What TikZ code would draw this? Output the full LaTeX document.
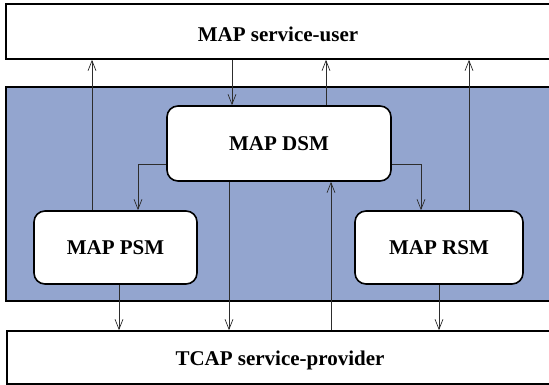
\documentclass[tikz,border=0pt]{standalone}
\usepackage{fontspec}
\newfontfamily\diagfont{Liberation Serif}
\usetikzlibrary{arrows.meta}
\definecolor{panelblue}{RGB}{147,165,207}
\definecolor{wire}{RGB}{45,45,45}
\tikzset{
  layerbox/.style={draw=black, line width=1.6pt, fill=white, rectangle, inner sep=0pt},
  smbox/.style={draw=black, line width=1.6pt, fill=white, rounded corners=11pt, inner sep=0pt,
                font=\diagfont\fontsize{21}{24}\selectfont\bfseries},
  lbl/.style={font=\diagfont\fontsize{21}{24}\selectfont\bfseries, inner sep=0pt},
  sig/.style={draw=wire, line width=0.9pt, -{Straight Barb[length=10pt,width=8pt,line width=0.7pt]}},
}
\begin{document}
\begin{tikzpicture}[x=1pt,y=-1pt]
\useasboundingbox (0,0) rectangle (549,385);
\clip (0,0) rectangle (549,385);
\fill[white] (0,0) rectangle (549,385);
% layers
\node[layerbox, minimum width=569pt, minimum height=55pt] (top) at (290.5,31.5) {};
\node[lbl] (toplbl) at (278,34.5) {MAP service-user};
\node[draw=black, line width=1.6pt, fill=panelblue, minimum width=569pt, minimum height=214pt, inner sep=0pt] (panel) at (290.5,194) {};
\node[layerbox, minimum width=568pt, minimum height=53pt] (tcap) at (291,357.5) {};
\node[lbl] (tcaplbl) at (280,360) {TCAP service-provider};
% state machines
\node[smbox, minimum width=224pt, minimum height=75pt] (dsm) at (279,143.5) {MAP DSM};
\node[smbox, minimum width=163pt, minimum height=73pt] (psm) at (115.5,247.5) {MAP PSM};
\node[smbox, minimum width=168pt, minimum height=73pt] (rsm) at (439,247.5) {MAP RSM};
% x positions of the connectors
\coordinate (c92) at (92,0);
\coordinate (c119) at (119,0);
\coordinate (c138) at (138,0);
\coordinate (c164) at (0,164);
\coordinate (c229) at (229,0);
\coordinate (c232) at (232,0);
\coordinate (c326) at (326,0);
\coordinate (c331) at (331,0);
\coordinate (c421) at (421,0);
\coordinate (c439) at (439,0);
\coordinate (c469) at (469,0);
% connectors to the service user
\draw[sig] (psm.north -| c92) -- (top.south -| c92);
\draw[sig] (top.south -| c232) -- (dsm.north -| c232);
\draw[sig] (dsm.north -| c326) -- (top.south -| c326);
\draw[sig] (rsm.north -| c469) -- (top.south -| c469);
% DSM to PSM / RSM
\draw[sig] (dsm.west |- c164) -| (psm.north -| c138);
\draw[sig] (dsm.east |- c164) -| (rsm.north -| c421);
% connectors to the service provider
\draw[sig] (psm.south -| c119) -- (tcap.north -| c119);
\draw[sig] (dsm.south -| c229) -- (tcap.north -| c229);
\draw[sig] (tcap.north -| c331) -- (dsm.south -| c331);
\draw[sig] (rsm.south -| c439) -- (tcap.north -| c439);
\end{tikzpicture}
\end{document}
